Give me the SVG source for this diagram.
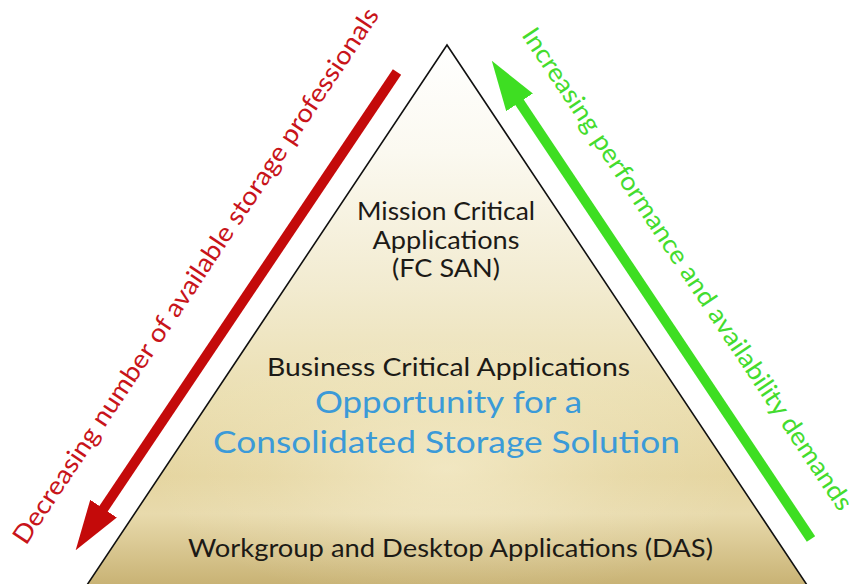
<svg xmlns="http://www.w3.org/2000/svg" width="849" height="584" viewBox="0 0 849 584">
  <defs>
    <linearGradient id="pyrFill" gradientUnits="userSpaceOnUse" x1="0" y1="45" x2="0" y2="584">
      <stop offset="0" stop-color="#ffffff"/>
      <stop offset="0.2" stop-color="#fbf9f0"/>
      <stop offset="0.45" stop-color="#f2ebd0"/>
      <stop offset="0.65" stop-color="#ebdfb2"/>
      <stop offset="0.8" stop-color="#e5d5a0"/>
      <stop offset="0.87" stop-color="#e8daac"/>
      <stop offset="1" stop-color="#c9b375"/>
    </linearGradient>
    <radialGradient id="pyrGlow" gradientUnits="userSpaceOnUse" cx="447" cy="470" r="300" gradientTransform="translate(447 470) scale(1 0.45) translate(-447 -470)">
      <stop offset="0" stop-color="#fffbe8" stop-opacity="0.45"/>
      <stop offset="0.6" stop-color="#fffbe8" stop-opacity="0.12"/>
      <stop offset="1" stop-color="#fffbe8" stop-opacity="0"/>
    </radialGradient>
    <marker id="headRed" viewBox="0 0 50 32" markerUnits="userSpaceOnUse" markerWidth="50" markerHeight="32" refX="1" refY="16" orient="auto">
      <path d="M0,0 L50,16 L0,32 Z" fill="#c40a0a"/>
    </marker>
    <marker id="headGreen" viewBox="0 0 50 32" markerUnits="userSpaceOnUse" markerWidth="50" markerHeight="32" refX="1" refY="16" orient="auto">
      <path d="M0,0 L50,16 L0,32 Z" fill="#3ede22"/>
    </marker>
  </defs>
  <style>
    text { font-family: Lato, "Open Sans", "Liberation Sans", sans-serif; }
    .lbl { fill: #1c1a16; text-anchor: middle; }
    .blue { fill: #3b9ad8; text-anchor: middle; }
    .side-red { fill: #c8141a; font-size: 25.5px; }
    .side-green { fill: #44dc2e; font-size: 25.5px; }
    .shaft { stroke-width: 10; fill: none; stroke-linecap: butt; }
  </style>

  <rect width="849" height="584" fill="#ffffff"/>

  <g id="pyramid">
    <polygon points="447,45 83,591 811,591" fill="url(#pyrFill)"/>
    <polygon points="447,45 83,591 811,591" fill="url(#pyrGlow)" stroke="#111111" stroke-width="1.6" stroke-linejoin="miter"/>
  </g>

  <g id="tier-mission">
    <text class="lbl" x="446" y="220" font-size="25" textLength="178" lengthAdjust="spacingAndGlyphs">Mission Critical</text>
    <text class="lbl" x="446" y="248.5" font-size="25" textLength="147" lengthAdjust="spacingAndGlyphs">Applications</text>
    <text class="lbl" x="446" y="277" font-size="25" textLength="108" lengthAdjust="spacingAndGlyphs">(FC SAN)</text>
  </g>

  <g id="tier-business">
    <text class="lbl" x="448.5" y="376" font-size="25.5" textLength="363" lengthAdjust="spacingAndGlyphs">Business Critical Applications</text>
    <text class="blue" x="448.5" y="413" font-size="31" textLength="267" lengthAdjust="spacingAndGlyphs">Opportunity for a</text>
    <text class="blue" x="446.5" y="452.5" font-size="31.5" textLength="467" lengthAdjust="spacingAndGlyphs">Consolidated Storage Solution</text>
  </g>

  <g id="tier-workgroup">
    <text class="lbl" x="450.5" y="557" font-size="24.5" textLength="525" lengthAdjust="spacingAndGlyphs">Workgroup and Desktop Applications (DAS)</text>
  </g>

  <g id="connectors">
    <line class="shaft" x1="397" y1="72" x2="103" y2="509.5" stroke="#c40a0a" marker-end="url(#headRed)"/>
    <line class="shaft" x1="811" y1="539" x2="519" y2="101.5" stroke="#3ede22" marker-end="url(#headGreen)"/>
  </g>

  <g id="label-decreasing">
    <text class="side-red" transform="translate(26 546) rotate(-56.31)" textLength="638" lengthAdjust="spacingAndGlyphs">Decreasing number of available storage professionals</text>
  </g>

  <g id="label-increasing">
    <text class="side-green" transform="translate(521 35) rotate(56.31)" textLength="574" lengthAdjust="spacingAndGlyphs">Increasing performance and availability demands</text>
  </g>
</svg>
